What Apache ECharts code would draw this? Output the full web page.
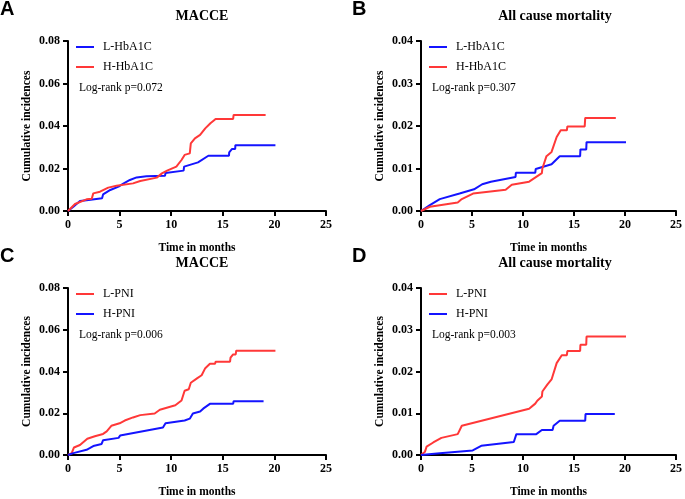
<!DOCTYPE html>
<html>
<head>
<meta charset="utf-8">
<script src="https://cdn.jsdelivr.net/npm/echarts@6/dist/echarts.min.js"></script>
<style>
  html, body { margin: 0; padding: 0; background: #fff; }
  #chart { width: 685px; height: 499px; }
</style>
</head>
<body>
<div id="chart"></div>
<script>
// [months, cumulative incidence]
var macceLowHba1c = [[0,0],[0.52,0.002],[1.16,0.0047],[2,0.0052],[3.3,0.006],[3.4,0.0078],[4.1,0.0099],[4.9,0.0115],[5.4,0.013],[6,0.0146],[6.65,0.0158],[7.6,0.0163],[9.4,0.0166],[9.45,0.0179],[11.2,0.019],[11.25,0.0209],[12.6,0.0229],[13.6,0.026],[15.6,0.026],[15.62,0.0276],[15.9,0.0292],[16.2,0.0292],[16.22,0.031],[20.1,0.031]];
var macceHighHba1c = [[0,0],[0.68,0.0033],[1.8,0.0055],[2.3,0.0058],[2.45,0.0083],[3.1,0.0091],[3.9,0.011],[4.7,0.0119],[6.3,0.013],[7,0.0141],[8.6,0.0157],[9.1,0.0177],[9.6,0.019],[10.5,0.0209],[11,0.024],[11.3,0.0264],[11.8,0.0271],[11.9,0.0318],[12.3,0.0342],[12.8,0.0358],[13.3,0.0389],[13.8,0.0413],[14.1,0.0425],[14.3,0.0433],[16,0.0433],[16.05,0.0452],[19.15,0.0452]];
var deathLowHba1c = [[0,0],[0.87,0.0014],[1.84,0.0028],[3.78,0.0041],[5.2,0.0051],[6,0.0063],[6.85,0.0069],[9.27,0.008],[9.3,0.009],[11.2,0.009],[11.25,0.0099],[12.8,0.011],[13.6,0.0129],[15.6,0.0129],[15.63,0.0145],[16.2,0.0145],[16.23,0.0162],[20.1,0.0162]];
var deathHighHba1c = [[0,0],[0.87,0.001],[3.6,0.002],[4,0.0028],[5.1,0.0041],[8.3,0.005],[8.9,0.0062],[10.6,0.0069],[11.85,0.0089],[11.9,0.01],[12.3,0.0129],[12.8,0.0139],[13.3,0.0174],[13.7,0.019],[14.3,0.019],[14.35,0.0199],[16.05,0.0199],[16.1,0.0219],[19.1,0.0219]];
var macceLowPni = [[0,0],[0.36,0.0009],[0.58,0.0036],[1.16,0.0048],[1.87,0.0078],[2.6,0.009],[3.4,0.0101],[3.75,0.0113],[4.2,0.014],[5,0.0152],[5.5,0.0165],[6.3,0.018],[7,0.0191],[8.4,0.0199],[8.9,0.0217],[10.4,0.0238],[11,0.0261],[11.3,0.0308],[11.7,0.0315],[11.9,0.0346],[12.5,0.0367],[12.95,0.0382],[13.3,0.0416],[13.75,0.0437],[14.25,0.0437],[14.3,0.0447],[15.7,0.0447],[15.75,0.0466],[16,0.0482],[16.25,0.0482],[16.3,0.05],[20.1,0.05]];
var maccHighPni = [[0,0],[0.52,0.0009],[1.8,0.0025],[2.1,0.0033],[2.45,0.0043],[3.26,0.0053],[3.4,0.0071],[4.9,0.0082],[5.05,0.0093],[9.2,0.0132],[9.45,0.0152],[11.3,0.0165],[11.8,0.0174],[12.1,0.0199],[12.8,0.0208],[13.1,0.0222],[13.75,0.0245],[16,0.0245],[16.05,0.0258],[18.95,0.0258]];
var deathLowPni = [[0,0],[0.39,0.0008],[0.55,0.002],[1.2,0.003],[2,0.0041],[3.6,0.005],[4,0.007],[10.6,0.0111],[11.2,0.0123],[11.4,0.013],[11.85,0.014],[11.9,0.0152],[12.4,0.0169],[12.8,0.0181],[13.3,0.022],[13.8,0.0239],[14.3,0.0239],[14.35,0.0249],[15.6,0.0249],[15.63,0.0264],[16.2,0.0264],[16.23,0.0284],[20.1,0.0284]];
var deathHighPni = [[0,0],[1.84,0.0004],[5.07,0.0011],[5.9,0.0022],[9.1,0.0031],[9.35,0.005],[11.3,0.005],[11.85,0.006],[12.9,0.006],[13,0.007],[13.6,0.0082],[16.1,0.0082],[16.13,0.0098],[19,0.0098]];

var panelLetters = ['A', 'B', 'C', 'D'];
var panelTitles = ['MACCE', 'All cause mortality', 'MACCE', 'All cause mortality'];
var pValues = ['Log-rank p=0.072', 'Log-rank p=0.307', 'Log-rank p=0.006', 'Log-rank p=0.003'];
var yMax = [0.08, 0.04, 0.08, 0.04];
var yStep = [0.02, 0.01, 0.02, 0.01];

var BLUE = '#1414ff';
var RED = '#ff3838';
var serif = '"Liberation Serif", "DejaVu Serif", serif';

var panels = [
  { left: 68, top: 41, height: 170, series: [['L-HbA1C', macceLowHba1c, BLUE], ['H-HbA1C', macceHighHba1c, RED]] },
  { left: 421, top: 41, height: 170, series: [['L-HbA1C', deathLowHba1c, BLUE], ['H-HbA1C', deathHighHba1c, RED]] },
  { left: 68, top: 288, height: 171, series: [['L-PNI', macceLowPni, RED], ['H-PNI', maccHighPni, BLUE]] },
  { left: 421, top: 288, height: 171, series: [['L-PNI', deathLowPni, RED], ['H-PNI', deathHighPni, BLUE]] }
];

var grid = [], xAxis = [], yAxis = [], series = [], legend = [], title = [], graphic = [];

panels.forEach(function (p, i) {
  grid.push({ left: p.left, top: p.top, width: 258, height: p.height });
  xAxis.push({
    gridIndex: i, type: 'value', min: 0, max: 25, interval: 5,
    name: 'Time in months', nameLocation: 'middle', nameGap: 31,
    nameTextStyle: { fontFamily: serif, fontWeight: 'bold', fontSize: 11.5, color: '#000' },
    axisLine: { lineStyle: { color: '#000', width: 2 } },
    axisTick: { show: true, length: 5, lineStyle: { color: '#000', width: 2 } },
    axisLabel: { fontFamily: serif, fontWeight: 'bold', fontSize: 12, color: '#000', margin: 8 },
    splitLine: { show: false }
  });
  yAxis.push({
    gridIndex: i, type: 'value', min: 0, max: yMax[i], interval: yStep[i],
    name: 'Cumulative incidences', nameLocation: 'middle', nameGap: 35,
    nameTextStyle: { fontFamily: serif, fontWeight: 'bold', fontSize: 11.5, color: '#000' },
    axisLine: { show: true, lineStyle: { color: '#000', width: 2 } },
    axisTick: { show: true, length: 5, lineStyle: { color: '#000', width: 2 } },
    axisLabel: { fontFamily: serif, fontWeight: 'bold', fontSize: 12, color: '#000', margin: 8,
      formatter: function (v) { return v.toFixed(2); } },
    splitLine: { show: false }
  });
  p.series.forEach(function (s) {
    series.push({
      type: 'line', name: s[0], data: s[1], xAxisIndex: i, yAxisIndex: i,
      showSymbol: false, symbol: 'none', smooth: false,
      lineStyle: { color: s[2], width: 2 }, itemStyle: { color: s[2] }
    });
  });
  legend.push({
    orient: 'vertical', left: p.left + 8, top: p.top, padding: 0,
    data: p.series.map(function (s) { return s[0]; }),
    icon: 'rect', itemWidth: 18, itemHeight: 2, itemGap: 8,
    selectedMode: false,
    textStyle: { fontFamily: serif, fontSize: 12, color: '#000', padding: [0, 0, 0, 4] }
  });
  title.push({
    text: panelTitles[i], left: p.left + 129, top: p.top - 37, textAlign: 'center',
    textStyle: { fontFamily: serif, fontWeight: 'bold', fontSize: 14, color: '#000' }
  });
  graphic.push({
    type: 'text', left: p.left + 11, top: p.top + 41,
    style: { text: pValues[i], font: '11.5px ' + serif, fill: '#000' }
  });
  graphic.push({
    type: 'text', left: (i % 2 === 0 ? 0 : 352), top: p.top - 42,
    style: { text: panelLetters[i], font: 'bold 20px "Liberation Sans", Arial, sans-serif', fill: '#000' }
  });
});

var chart = echarts.init(document.getElementById('chart'));
chart.setOption({
  animation: false,
  backgroundColor: '#fff',
  title: title,
  legend: legend,
  grid: grid,
  xAxis: xAxis,
  yAxis: yAxis,
  series: series,
  graphic: graphic
});
</script>
</body>
</html>
